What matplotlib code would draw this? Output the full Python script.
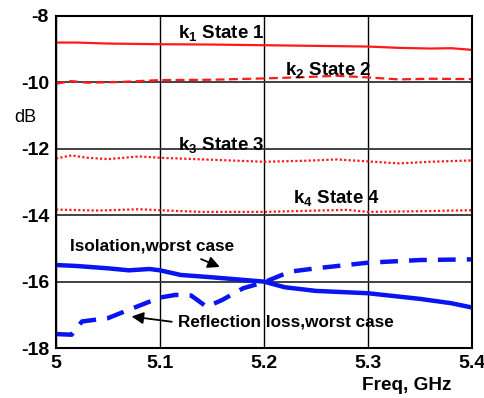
#! /usr/bin/env python3
""" Coupling states and worst case isolation / reflection loss vs frequency. """

import matplotlib
matplotlib.use('Agg')
import matplotlib.pyplot as plt

plt.rcParams['font.family'] = ['Liberation Sans', 'DejaVu Sans']
plt.rcParams['font.weight'] = 'bold'
plt.rcParams['axes.unicode_minus'] = False
plt.rcParams['mathtext.fontset'] = 'custom'
plt.rcParams['mathtext.rm'] = 'Liberation Sans:bold'
plt.rcParams['mathtext.default'] = 'rm'

# frequency points, GHz
f_k1 = [5.0, 5.02, 5.05, 5.1, 5.15, 5.2, 5.25, 5.3, 5.33, 5.36, 5.38, 5.4]
k1 = [-8.80, -8.80, -8.83, -8.85, -8.86, -8.88, -8.90, -8.92, -8.96, -8.98, -8.97, -9.02]

f_k2 = [5.0, 5.015, 5.03, 5.06, 5.1, 5.15, 5.2, 5.24, 5.27, 5.3, 5.33, 5.36, 5.4]
k2 = [-10.04, -9.96, -10.01, -9.99, -9.93, -9.92, -9.88, -9.84, -9.80, -9.85, -9.91, -9.89, -9.90]

f_k3 = [5.0, 5.015, 5.03, 5.05, 5.08, 5.1, 5.15, 5.2, 5.24, 5.27, 5.3, 5.33, 5.36, 5.4]
k3 = [-12.29, -12.20, -12.27, -12.31, -12.23, -12.27, -12.33, -12.39, -12.36, -12.32, -12.38, -12.44, -12.39, -12.35]

f_k4 = [5.0, 5.04, 5.08, 5.1, 5.14, 5.2, 5.25, 5.28, 5.3, 5.35, 5.4]
k4 = [-13.83, -13.86, -13.82, -13.85, -13.90, -13.90, -13.86, -13.84, -13.90, -13.88, -13.85]

f_iso = [5.0, 5.02, 5.05, 5.07, 5.09, 5.1, 5.12, 5.15, 5.2, 5.22, 5.25, 5.3, 5.35, 5.38, 5.4]
iso = [-15.50, -15.53, -15.60, -15.66, -15.62, -15.66, -15.80, -15.87, -16.00, -16.17, -16.28, -16.35, -16.52, -16.65, -16.78]

f_refl = [5.0, 5.015, 5.025, 5.05, 5.07, 5.1, 5.115, 5.13, 5.145, 5.16, 5.18, 5.2, 5.225, 5.25, 5.3, 5.35, 5.4]
refl = [-17.58, -17.60, -17.20, -17.10, -16.85, -16.48, -16.40, -16.42, -16.76, -16.55, -16.20, -16.02, -15.70, -15.60, -15.43, -15.35, -15.33]

fig, ax = plt.subplots(figsize=(4.84, 3.98), dpi=100)
fig.subplots_adjust(left=0.1157, right=0.975, bottom=0.1256, top=0.9598)

red = '#ff1a1a'
blue = '#0a14f0'
ax.plot(f_k1, k1, color=red, lw=1.6)
ax.plot(f_k2, k2, color=red, lw=1.6, ls=(0, (4, 2)))
ax.plot(f_k3, k3, color=red, lw=1.6, ls=(0, (1, 1)))
ax.plot(f_k4, k4, color=red, lw=1.6, ls=(0, (1, 1)))
ax.plot(f_iso, iso, color=blue, lw=3.2)
ax.plot(f_refl, refl, color=blue, lw=3.2, ls=(0, (4, 2.5)))

ax.set_xlim(5.0, 5.4)
ax.set_ylim(-18, -8)
ax.set_xticks([5.0, 5.1, 5.2, 5.3, 5.4])
ax.set_xticklabels(['5', '5.1', '5.2', '5.3', '5.4'])
ax.set_yticks([-18, -16, -14, -12, -10, -8])
ax.tick_params(length=0, labelsize=14, pad=5)
for lab in ax.get_xticklabels() + ax.get_yticklabels():
    lab.set_fontweight('bold')

ax.xaxis.grid(True, color='black', lw=1.0)
ax.yaxis.grid(True, color='#333333', lw=1.3)
for s in ax.spines.values():
    s.set_linewidth(1.5)

kkw = dict(fontsize=13.5, fontweight='bold', ha='left', va='center')
ax.text(5.117, -8.51, r'k$_{1}$ State 1', **kkw)
ax.text(5.220, -9.63, r'k$_{2}$ State 2', **kkw)
ax.text(5.117, -11.89, r'k$_{3}$ State 3', **kkw)
ax.text(5.228, -13.48, r'k$_{4}$ State 4', **kkw)

tkw = dict(fontsize=12.3, fontweight='bold', ha='left', va='center')
ax.text(5.0135, -14.93, 'Isolation,worst case', **tkw)
ax.text(5.117, -17.22, 'Reflection loss,worst case', **tkw)

akw = dict(arrowstyle='-|>,head_length=0.7,head_width=0.35', color='black', lw=1.3)
ax.annotate('', xy=(5.160, -15.59), xytext=(5.137, -15.29), arrowprops=akw)
ax.annotate('', xy=(5.070, -17.04), xytext=(5.114, -17.22), arrowprops=akw)

fig.text(14 / 484, 1 - 118 / 398, 'dB', fontsize=13, fontweight='normal', va='center')
fig.text(451 / 484, 1 - 385 / 398, 'Freq, GHz', fontsize=13.7, fontweight='bold',
         ha='right', va='center')

fig.savefig('out.png', dpi=100)
